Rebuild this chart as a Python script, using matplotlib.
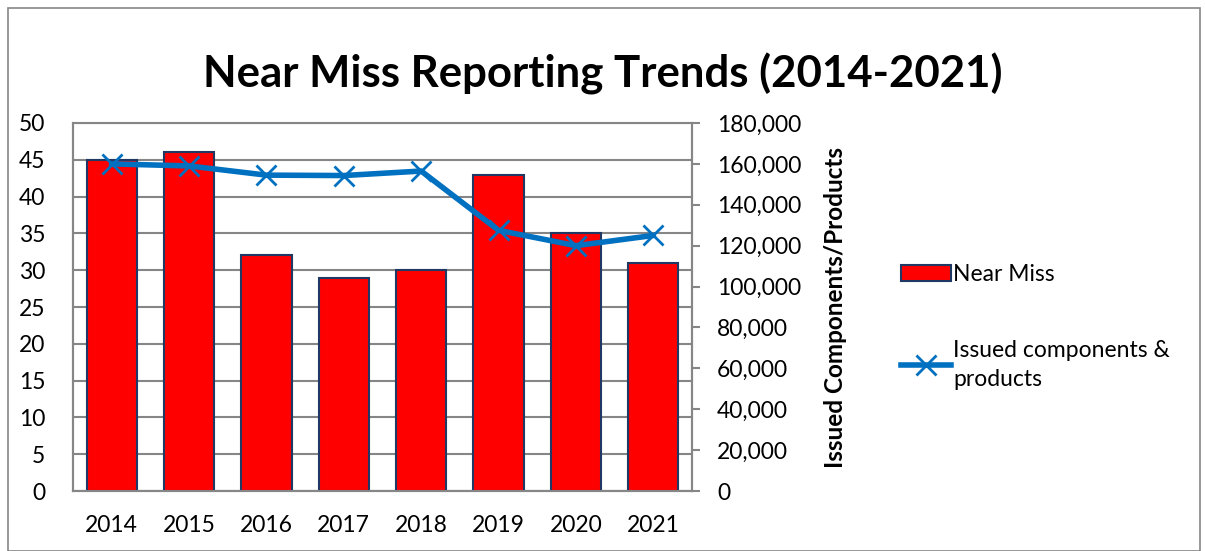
import matplotlib.pyplot as plt
from matplotlib.ticker import FuncFormatter, MultipleLocator
from matplotlib.patches import Rectangle

## -----------------------------------------------------------------------------
## Near miss reporting trends, bars + line on twin axis
## -----------------------------------------------------------------------------

plt.rcParams["font.family"] = ["Lato", "DejaVu Sans"]

years = ["2014", "2015", "2016", "2017", "2018", "2019", "2020", "2021"]
near_miss = [45, 46, 32, 29, 30, 43, 35, 31]
issued = [160000, 159000, 154500, 154300, 156500, 127500, 120000, 125000]

grid_gray = "#868686"

fig = plt.figure(figsize=(12.05, 5.51), dpi=100)
ax = fig.add_axes([73/1205, 1 - 491/551, (692-73)/1205, (491-123)/551])
ax2 = ax.twinx()

x = range(len(years))
ax.bar(x, near_miss, width=0.65, color="#FF0000", edgecolor="#1F3864", linewidth=1.5,
       zorder=3, label="Near Miss")
ax2.plot(x, issued, color="#0070C0", linewidth=4, marker="x", markersize=14,
         markeredgewidth=2, zorder=4, label="Issued components &\nproducts")

ax.set_xlim(-0.5, len(years) - 0.5)
ax.set_ylim(0, 50)
ax.yaxis.set_major_locator(MultipleLocator(5))
ax2.set_ylim(0, 180000)
ax2.yaxis.set_major_locator(MultipleLocator(20000))
ax2.yaxis.set_major_formatter(FuncFormatter(lambda v, p: f"{int(v):,}"))

ax.set_xticks(list(x))
ax.set_xticklabels(years)
ax.grid(axis="y", color=grid_gray, linewidth=1.5, zorder=0)
ax.set_axisbelow(True)

for a in (ax, ax2):
    for s in a.spines.values():
        s.set_color(grid_gray)
        s.set_linewidth(1.5)
    a.tick_params(labelsize=16.5, colors="black", length=0, pad=8)
ax.tick_params(axis="y", pad=20)
ax.tick_params(axis="x", pad=17)
ax.spines["top"].set_visible(False)
ax2.tick_params(axis="y", length=6, width=1.5, color=grid_gray, direction="out", pad=12)

ax2.set_ylabel("Issued Components/Products", fontsize=17.5, fontweight="bold", labelpad=16)

fig.suptitle("Near Miss Reporting Trends (2014-2021)", fontsize=31.5, fontweight="bold",
             y=0.905)

h1, l1 = ax.get_legend_handles_labels()
h2, l2 = ax2.get_legend_handles_labels()
leg = fig.legend(h1 + h2, l1 + l2, loc="center left", bbox_to_anchor=(880/1205, 1 - 327/551),
                 frameon=False, fontsize=16.5, handlelength=2.2, handletextpad=0.1,
                 labelspacing=2.4)
for t in leg.get_texts():
    t.set_linespacing(1.45)

# chart area border
fig.patches.append(Rectangle((8/1205, 0), 1192/1205, 1 - 8/551, transform=fig.transFigure,
                             fill=False, edgecolor=grid_gray, linewidth=1.2))

plt.savefig("out.png", dpi=100)
